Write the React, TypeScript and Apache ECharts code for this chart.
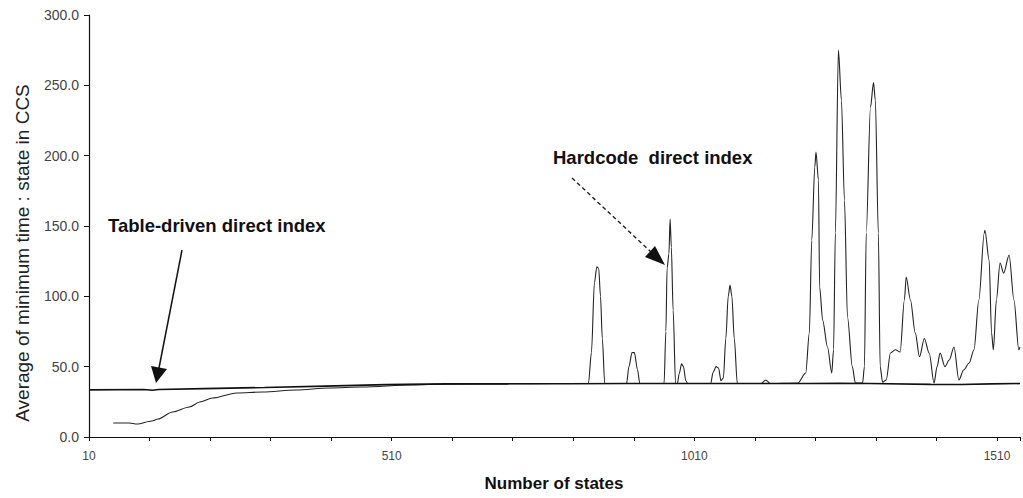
import React, { useEffect, useRef } from "react";
import * as echarts from "echarts";

// Horizontal axis: number of states, ticks every 100 starting at 10
const STATE_ORIGIN = 10;
const STATE_END = 1548;
const X_LABEL_STATES = [10, 510, 1010, 1510];

// Vertical axis: average minimum time per state (CCS)
const Y_MIN = 0;
const Y_MAX = 300;
const Y_STEP = 50;

// Table-driven direct index
const tableStates = [10, 100, 115, 125, 200, 300, 400, 500, 600, 700, 800, 900, 1000, 1100, 1200, 1250, 1300, 1400, 1450, 1500, 1548];
const tableAvg = [33.5, 33.8, 33.2, 33.8, 34.4, 35.2, 36.2, 37.2, 37.8, 37.8, 37.9, 38.0, 38.0, 38.0, 38.0, 38.2, 38.0, 37.4, 37.3, 37.8, 38.0];

// Hardcode direct index
const hardStates = [
  50, 77, 89, 114, 124, 148, 176, 193, 214, 254, 297, 352, 407, 461, 543, 600, 700, 780, 835,
  840, 845, 849, 852, 855, 858, 862,
  898, 902, 907, 911, 916, 920,
  960, 963, 965, 968, 970, 972, 975, 979,
  982, 985, 989, 992, 996, 999,
  1037, 1041, 1046, 1050, 1054, 1058, 1062, 1066, 1069, 1072, 1076, 1081,
  1120, 1128, 1136, 1181, 1194, 1200, 1204, 1209, 1211, 1215, 1217, 1222, 1230, 1237,
  1240, 1243, 1248, 1253, 1258, 1263, 1271, 1276, 1288, 1291, 1294, 1301, 1306, 1309,
  1314, 1317, 1321, 1327, 1334, 1342, 1350, 1357, 1360, 1367, 1375, 1382, 1390, 1398,
  1406, 1411, 1416, 1424, 1431, 1439, 1447, 1455, 1464, 1472, 1480, 1489, 1490, 1497,
  1501, 1504, 1509, 1515, 1521, 1530, 1538, 1546, 1548,
];
const hardAvg = [
  10, 10, 9.2, 11.4, 12.8, 17.8, 21.3, 24.9, 27.7, 31.3, 32, 33.4, 34.8, 35.5, 37, 37.6, 37.8, 38, 38,
  60, 110, 121, 120, 100, 70, 38,
  38, 50, 60, 60, 48, 38,
  38, 75, 120, 130, 155, 135, 90, 38,
  38, 45, 52, 50, 40, 38,
  38, 46, 50, 49, 40, 42, 70, 100, 108, 100, 70, 38,
  38, 40.5, 38, 38.4, 45.5, 74, 140, 192, 202.6, 182.7, 106.6, 83, 64, 45.5,
  62, 145, 275, 239.5, 168.4, 85.3, 50, 38.4, 38.4, 50, 145, 234.5, 252, 239.5,
  145, 50, 39, 40.5, 59.7, 62, 60.4, 97.4, 113.7, 97.4, 74, 57, 70, 59.7,
  38.4, 50, 59.7, 50, 54.7, 64, 40.5, 47.6, 52.6, 62, 97.4, 145, 147, 125.8,
  74, 62, 97.4, 123.7, 116.5, 129.4, 97.4, 62, 64,
];

const FONT = "'Liberation Sans', Arial, sans-serif";
const INK = "#111";

const toPoints = (xs: number[], ys: number[]) => xs.map((s, i) => [s - STATE_ORIGIN, ys[i]]);

export default function App() {
  const ref = useRef<HTMLDivElement>(null);

  useEffect(() => {
    document.body.style.margin = "0";
    if (!ref.current) return;
    const chart = echarts.init(ref.current, null, { renderer: "svg" });

    chart.setOption({
      animation: false,
      backgroundColor: "#fff",
      grid: { left: 89, top: 15, width: 934, height: 422, containLabel: false },
      xAxis: {
        type: "value",
        min: 0,
        max: STATE_END - STATE_ORIGIN,
        interval: 100,
        axisLine: { show: true, onZero: false, lineStyle: { color: INK, width: 1.2 } },
        axisTick: { show: true, length: 4, lineStyle: { color: INK } },
        splitLine: { show: false },
        axisLabel: {
          margin: 13,
          fontFamily: FONT,
          fontSize: 12,
          color: "#444",
          formatter: (v: number) => {
            const s = Math.round(v) + STATE_ORIGIN;
            return X_LABEL_STATES.includes(s) ? String(s) : "";
          },
        },
      },
      yAxis: {
        type: "value",
        min: Y_MIN,
        max: Y_MAX,
        interval: Y_STEP,
        axisLine: { show: true, lineStyle: { color: INK, width: 1.2 } },
        axisTick: { show: true, length: 5, lineStyle: { color: INK } },
        splitLine: { show: false },
        axisLabel: {
          margin: 10,
          fontFamily: FONT,
          fontSize: 14,
          color: "#444",
          formatter: (v: number) => v.toFixed(1),
        },
      },
      series: [
        {
          name: "Table-driven direct index",
          type: "line",
          data: toPoints(tableStates, tableAvg),
          showSymbol: false,
          lineStyle: { color: INK, width: 1.6 },
          z: 3,
        },
        {
          name: "Hardcode direct index",
          type: "line",
          data: toPoints(hardStates, hardAvg),
          showSymbol: false,
          smooth: 0.3,
          smoothMonotone: "x",
          lineStyle: { color: "#222", width: 1.1 },
          z: 2,
        },
      ],
      graphic: [
        {
          type: "text",
          x: 22,
          y: 253,
          rotation: Math.PI / 2,
          style: {
            text: "Average of minimum time : state in CCS",
            font: `19px ${FONT}`,
            fill: "#222",
            align: "center",
            verticalAlign: "middle",
          },
        },
        {
          type: "text",
          x: 554,
          y: 483,
          style: {
            text: "Number of states",
            font: `bold 17px ${FONT}`,
            fill: INK,
            align: "center",
            verticalAlign: "middle",
          },
        },
        {
          type: "text",
          x: 108,
          y: 225,
          style: {
            text: "Table-driven direct index",
            font: `bold 18.5px ${FONT}`,
            fill: INK,
            align: "left",
            verticalAlign: "middle",
          },
        },
        {
          type: "text",
          x: 553,
          y: 157,
          style: {
            text: "Hardcode  direct index",
            font: `bold 18.5px ${FONT}`,
            fill: INK,
            align: "left",
            verticalAlign: "middle",
          },
        },
        {
          type: "line",
          shape: { x1: 182, y1: 250, x2: 159, y2: 368 },
          style: { stroke: INK, lineWidth: 1.5 },
        },
        {
          type: "polygon",
          shape: { points: [[151, 366], [167, 369], [156, 383]] },
          style: { fill: INK },
        },
        {
          type: "line",
          shape: { x1: 572, y1: 178, x2: 651, y2: 252 },
          style: { stroke: "#222", lineWidth: 1.4, lineDash: [4, 3] },
        },
        {
          type: "polygon",
          shape: { points: [[645, 257], [655, 246], [665, 265]] },
          style: { fill: INK },
        },
      ],
    });

    return () => chart.dispose();
  }, []);

  return <div ref={ref} style={{ width: 1023, height: 498 }} />;
}
